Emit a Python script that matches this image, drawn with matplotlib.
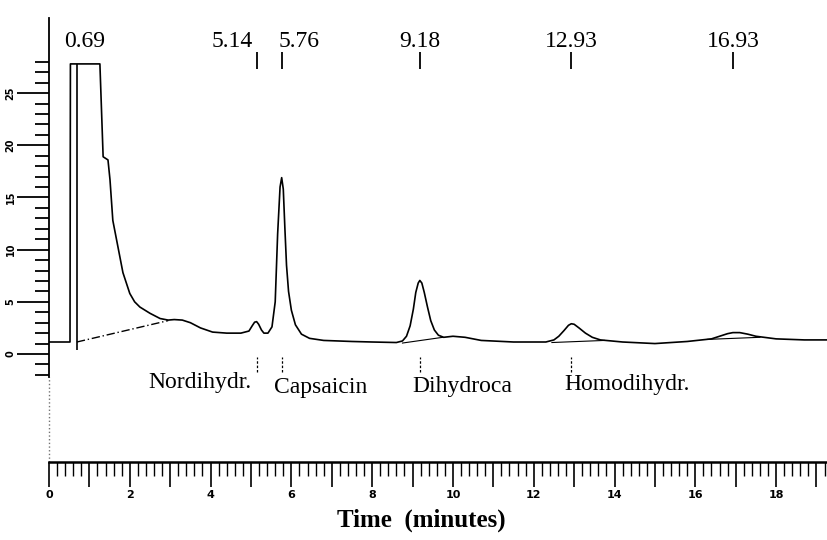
import matplotlib
matplotlib.use("Agg")
import matplotlib.pyplot as plt
from matplotlib.ticker import MultipleLocator, FixedLocator, FuncFormatter

# Chromatogram trace (time in minutes, detector response)
time = [0.0, 0.52, 0.53, 0.56, 1.26, 1.34, 1.46, 1.51, 1.58, 1.71, 1.83, 2.0,
        2.12, 2.25, 2.5, 2.75, 2.95, 3.1, 3.3, 3.5, 3.75, 4.05, 4.4, 4.75,
        4.95, 5.03, 5.09, 5.14, 5.19, 5.26, 5.32, 5.42, 5.52, 5.60, 5.66,
        5.72, 5.76, 5.80, 5.84, 5.88, 5.93, 6.0, 6.1, 6.25, 6.45, 6.8, 7.5,
        8.0, 8.6, 8.75, 8.85, 8.94, 9.02, 9.08, 9.14, 9.18, 9.23, 9.29, 9.37,
        9.45, 9.54, 9.64, 9.77, 10.0, 10.3, 10.7, 11.5, 12.3, 12.5, 12.62,
        12.75, 12.86, 12.93, 13.0, 13.12, 13.28, 13.45, 13.65, 14.2, 15.0,
        15.8, 16.4, 16.6, 16.8, 16.93, 17.1, 17.3, 17.5, 18.0, 18.7, 19.26]
signal = [1.15, 1.15, 27.8, 27.8, 27.8, 18.9, 18.6, 16.7, 12.8, 10.2, 7.8, 5.8,
          5.0, 4.5, 3.9, 3.4, 3.25, 3.3, 3.25, 3.0, 2.5, 2.1, 2.0, 2.0,
          2.2, 2.7, 3.05, 3.1, 2.85, 2.3, 2.0, 2.0, 2.6, 5.0, 11.5,
          16.0, 16.9, 15.8, 12.0, 8.5, 6.0, 4.2, 2.8, 1.9, 1.5, 1.3, 1.2,
          1.15, 1.1, 1.25, 1.7, 2.7, 4.3, 5.9, 6.8, 7.05, 6.8, 5.9, 4.5,
          3.2, 2.3, 1.8, 1.6, 1.7, 1.6, 1.3, 1.15, 1.15, 1.35, 1.7,
          2.25, 2.75, 2.9, 2.85, 2.5, 2.0, 1.6, 1.35, 1.15, 1.0,
          1.2, 1.45, 1.7, 1.95, 2.05, 2.05, 1.9, 1.7, 1.45, 1.35, 1.35]

# integration baselines
solvent_base_t = [0.69, 2.95]
solvent_base_y = [1.15, 3.2]
peak_base_t = [[8.75, 9.75], [12.45, 13.75], [16.3, 17.6]]
peak_base_y = [[1.05, 1.6], [1.1, 1.3], [1.4, 1.6]]

# retention times printed on the chart
rt_top = [0.69, 5.14, 5.76, 9.18, 12.93, 16.93]
rt_labels = ["0.69", "5.14", "5.76", "9.18", "12.93", "16.93"]

# identified compounds
compound_rt = [5.14, 5.76, 9.18, 12.93]
compound_names = ["Nordihydr.", "Capsaicin", "Dihydroca", "Homodihydr."]

serif = "Liberation Serif"

fig = plt.figure(figsize=(8.27, 5.40), dpi=100)
ax = fig.add_axes([49 / 827, 1 - 462 / 540, 778 / 827, 444 / 540])
ax.set_xlim(0, 19.26)
ax.set_ylim(-10.35, 32.2)

ax.plot(time, signal, color="black", lw=1.2)
ax.plot(solvent_base_t, solvent_base_y, color="black", lw=1.0, ls=(0, (6, 2, 1, 2)))
for bt, by in zip(peak_base_t, peak_base_y):
    ax.plot(bt, by, color="black", lw=0.8)
# solvent peak marker line
ax.vlines(rt_top[0], 0.4, 27.8, color="black", lw=1.2)

# retention time labels at the top
label_nudge = {"0.69": 0.2, "5.14": -0.6, "5.76": 0.43}
for t, lab in zip(rt_top, rt_labels):
    if lab != "0.69":
        ax.vlines(t, 27.3, 28.9, color="black", lw=1.3)
    ax.text(t + label_nudge.get(lab, 0), 29.45, lab, ha="center", va="baseline",
            fontsize=17, family=serif)

# compound names below the trace
name_y = {"Nordihydr.": -3.26, "Capsaicin": -3.75, "Dihydroca": -3.6, "Homodihydr.": -3.45}
for t, name in zip(compound_rt, compound_names):
    ax.vlines(t, -1.7, -0.3, color="black", lw=0.9, ls=(0, (2, 1.5)))
    if name == "Nordihydr.":
        ax.text(t - 0.12, name_y[name], name, ha="right", va="baseline",
                fontsize=17, family=serif)
    else:
        ax.text(t - 0.18, name_y[name], name, ha="left", va="baseline",
                fontsize=17, family=serif)

# axes styling like a paper ruler
for s in ["top", "right"]:
    ax.spines[s].set_visible(False)
ax.spines["left"].set_bounds(-2.2, 32.2)
ax.spines["left"].set_linewidth(1.3)
ax.spines["bottom"].set_linewidth(1.8)
ax.plot([0, 0], [-10.35, -2.2], color="0.45", lw=1.0, ls=":", clip_on=False)

ax.xaxis.set_major_locator(MultipleLocator(1))
ax.xaxis.set_minor_locator(MultipleLocator(0.2))
ax.xaxis.set_major_formatter(FuncFormatter(lambda v, p: f"{int(round(v))}" if round(v) % 2 == 0 else ""))
ax.tick_params(axis="x", which="major", length=18, width=1.2, pad=2, labelsize=8)
ax.tick_params(axis="x", which="minor", length=10, width=1.0)
for lab in ax.get_xticklabels():
    lab.set_fontweight("bold")

ax.yaxis.set_major_locator(FixedLocator([0, 5, 10, 15, 20, 25]))
ax.yaxis.set_minor_locator(FixedLocator(list(range(-2, 29))))
ax.tick_params(axis="y", which="major", length=23, width=1.3, pad=1, labelsize=7)
ax.tick_params(axis="y", which="minor", length=10, width=1.3)
for lab in ax.get_yticklabels():
    lab.set_rotation(90)
    lab.set_fontweight("bold")
    lab.set_va("center")

ax.set_xlabel("Time  (minutes)", fontsize=18, family=serif, fontweight="bold")
ax.xaxis.set_label_coords(0.478, -0.105)

fig.savefig("out.png", dpi=100)
